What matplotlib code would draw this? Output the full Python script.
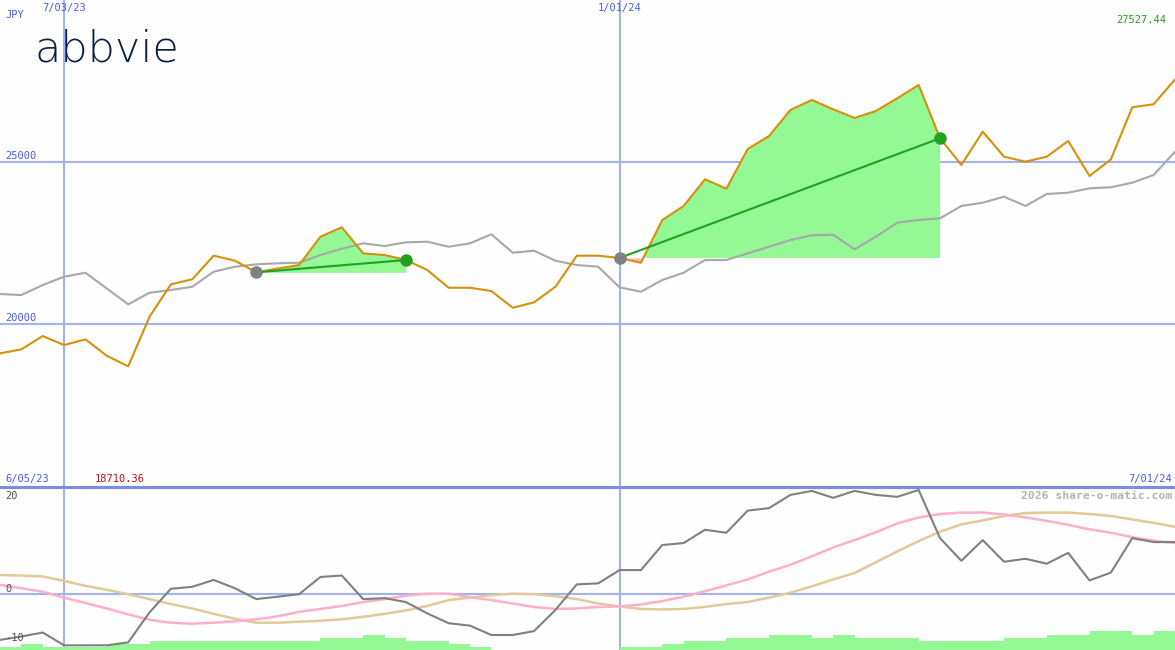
import matplotlib
matplotlib.use("Agg")
import matplotlib.pyplot as plt
import numpy as np

# ---------------- data (weekly, index 0..55) ----------------
price = [19108, 19231, 19640, 19363, 19539, 19034, 18710.36, 20234, 21230, 21384,
         22110, 21956, 21599, 21716, 21823, 22694, 22983, 22183, 22131, 21977,
         21670, 21125, 21125, 21024, 20510, 20677, 21156, 22110, 22110, 22040,
         21894, 23207, 23638, 24459, 24170, 25390, 25790, 26590, 26897, 26611,
         26344, 26559, 26950, 27359, 25720, 24899, 25923, 25154, 25000, 25154,
         25637, 24560, 25074, 26673, 26765, 27527.44]
index_line = [20932, 20901, 21208, 21464, 21587, 21101, 20615, 20972, 21055, 21156,
              21617, 21771, 21845, 21876, 21894, 22131, 22325, 22491, 22408, 22521,
              22540, 22386, 22491, 22768, 22202, 22263, 21956, 21823, 21771, 21138,
              21002, 21362, 21587, 21977, 21977, 22183, 22386, 22592, 22737, 22755,
              22306, 22694, 23124, 23207, 23260, 23638, 23739, 23924, 23638, 24007,
              24047, 24182, 24213, 24354, 24591, 25307]
momentum = [-9.3, -8.6, -7.8, -10.4, -10.4, -10.4, -9.8, -3.7, 1.1, 1.5,
            2.9, 1.2, -1.0, -0.5, 0.0, 3.5, 3.8, -1.0, -0.8, -1.6,
            -3.9, -5.9, -6.4, -8.3, -8.3, -7.5, -3.2, 2.0, 2.2, 4.9,
            4.9, 10.0, 10.4, 13.1, 12.5, 17.0, 17.5, 20.2, 21.0, 19.6,
            21.0, 20.2, 19.8, 21.2, 11.4, 6.8, 11.0, 6.6, 7.2, 6.2,
            8.4, 2.8, 4.4, 11.4, 10.6, 10.6]
pink_line = [1.9, 1.2, 0.5, -0.7, -1.8, -2.9, -4.1, -5.2, -5.8, -6.0,
             -5.8, -5.5, -5.1, -4.5, -3.6, -3.0, -2.4, -1.6, -1.0, -0.3,
             0.1, 0.1, -0.6, -1.2, -1.9, -2.6, -3.0, -2.9, -2.6, -2.5,
             -2.1, -1.4, -0.5, 0.6, 1.8, 3.0, 4.6, 6.0, 7.7, 9.5,
             11.0, 12.6, 14.4, 15.6, 16.3, 16.6, 16.6, 16.2, 15.6, 14.9,
             14.1, 13.2, 12.5, 11.6, 10.9, 10.4]
tan_line = [3.9, 3.8, 3.6, 2.7, 1.7, 0.9, 0.0, -1.0, -2.0, -2.9,
            -4.0, -5.0, -5.8, -5.8, -5.6, -5.4, -5.1, -4.6, -4.0, -3.3,
            -2.4, -1.2, -0.7, -0.2, 0.1, 0.0, -0.4, -1.0, -1.9, -2.5,
            -3.0, -3.1, -3.0, -2.6, -2.0, -1.6, -0.7, 0.3, 1.6, 3.0,
            4.3, 6.5, 8.7, 10.8, 12.7, 14.2, 15.0, 15.9, 16.5, 16.6,
            16.6, 16.3, 15.9, 15.2, 14.5, 13.7]
volume = [0.55, 1.22, 0.55, 0.55, 0.55, 1.22, 1.22, 1.89, 1.89, 1.89,
          1.89, 1.89, 1.89, 1.89, 1.89, 2.5, 2.5, 3.05, 2.4, 1.83,
          1.83, 1.22, 0.55, 0, 0, 0, 0, 0, 0, 0.55,
          0.55, 1.22, 1.83, 1.83, 2.4, 2.4, 3.05, 3.05, 2.5, 3.05,
          2.5, 2.5, 2.5, 1.89, 1.89, 1.89, 1.89, 2.5, 2.5, 3.05,
          3.05, 3.92, 3.92, 3.05, 3.92]

date_ticks = [3, 29]
date_labels = ["7/03/23", "1/01/24"]
price_levels = [25000, 20000]
price_level_labels = ["25000", "20000"]
osc_levels = [20, 0, -10]
osc_labels = ["20", "0", "-10"]
trades = [(12, 19), (29, 44)]
range_start, range_end = "6/05/23", "7/01/24"
currency = "JPY"
last_label = "27527.44"
min_label = "18710.36"

# ---------------- styling ----------------
W, H = 1175, 650
BG = "#FDFEFD"
GRID = "#A4B2F2"
BLUE_TXT = "#4A5CE8"
ORANGE = "#D8900A"
GREYL = "#A8A8A8"
GREEN_FILL = "#94F894"
PINK_FILL = "#FFB8C8"
MONO = ["DejaVu Sans Mono"]

fig = plt.figure(figsize=(W / 100, H / 100), dpi=100, facecolor=BG)

x = np.arange(len(price))
ax = fig.add_axes([0, 163 / H, 1, 487 / H])
ax.set_facecolor(BG)
ax.set_xlim(0, 55)
ax.set_ylim(15000, 29970)
for s in ax.spines.values():
    s.set_visible(False)
ax.set_xticks([]); ax.set_yticks([])

for lv in price_levels:
    ax.axhline(lv, color=GRID, lw=1.5, zorder=1)
for d in date_ticks:
    ax.axvline(d, color=GRID, lw=1.5, zorder=1)

p = np.array(price, dtype=float)
for a, b in trades:
    xs = x[a:b + 1]
    ys = p[a:b + 1]
    base = p[a]
    ax.fill_between(xs, ys, base, where=ys >= base, interpolate=True,
                    color=GREEN_FILL, lw=0, zorder=2)
    ax.fill_between(xs, ys, base, where=ys < base, interpolate=True,
                    color=PINK_FILL, lw=0, zorder=2)

ax.plot(x, index_line, color=GREYL, lw=1.5, zorder=3)
ax.plot(x, price, color=ORANGE, lw=1.5, zorder=4)

for a, b in trades:
    ax.plot([a, b], [p[a], p[b]], color="#22A022", lw=1.5, zorder=5)
    ax.plot([a], [p[a]], "o", color="#808080", ms=9, mec="none", zorder=6)
    ax.plot([b], [p[b]], "o", color="#22A022", ms=9, mec="none", zorder=6)

# bottom oscillator panel
bx = fig.add_axes([0, 0, 1, 163 / H])
bx.set_facecolor(BG)
bx.set_xlim(0, 55)
ylo, yhi = -11.35, 21.8
bx.set_ylim(ylo, yhi)
for s in bx.spines.values():
    s.set_visible(False)
bx.set_xticks([]); bx.set_yticks([])
bx.axhline(0, color=GRID, lw=1.5, zorder=1)
for d in date_ticks:
    bx.axvline(d, color=GRID, lw=1.5, zorder=1)
bx.bar(np.arange(len(volume)), volume, width=1.0, align="edge", bottom=ylo,
       color=GREEN_FILL, lw=0, zorder=2)
bx.plot(x, tan_line, color="#E2CA98", lw=1.8, zorder=3)
bx.plot(x, pink_line, color="#FFB0C8", lw=1.8, zorder=3)
bx.plot(x, momentum, color="#808080", lw=1.5, zorder=4)

# separator line between panels
fig.add_artist(plt.Line2D([0, 1], [1 - 487 / H, 1 - 487 / H], color="#7C8CEA",
                          lw=2.2, transform=fig.transFigure))


def ftxt(px, py, s, **kw):
    fig.text(px / W, 1 - py / H, s, va="center", family=MONO, **kw)


ftxt(5, 15, currency, color=BLUE_TXT, fontsize=7.5)
for d, lab in zip(date_ticks, date_labels):
    xp = d * W / 55
    ftxt(xp, 8, lab, color=BLUE_TXT, fontsize=7.5, ha="center")
ftxt(1166, 20, last_label, color="#20A020", fontsize=7.5, ha="right")
for lv, lab in zip(price_levels, price_level_labels):
    ypx = (29970 - lv) / (29970 - 15000) * 487
    ftxt(5, ypx - 6, lab, color=BLUE_TXT, fontsize=7.5)
ftxt(5, 479, range_start, color=BLUE_TXT, fontsize=7.5)
ftxt(95, 479, min_label, color="#B01818", fontsize=7.5)
ftxt(1172, 479, range_end, color=BLUE_TXT, fontsize=7.5, ha="right")
ftxt(1172, 496, "2026 share-o-matic.com", color="#B4B4B4", fontsize=8.2,
     ha="right", fontweight="bold")
for lv, lab in zip(osc_levels, osc_labels):
    ypx = 487 + (yhi - lv) / (yhi - ylo) * 163
    ypx = min(max(ypx - 5, 496), 641)
    ftxt(5, ypx, lab, color="#505050", fontsize=7.5)

# logo
fig.text(34 / W, 1 - 61 / H, "abbvie", color="#0B1F45", fontsize=31,
         family=["DejaVu Sans"], fontweight=200,
         va="baseline", ha="left")

fig.savefig("out.png", dpi=100, facecolor=BG)
